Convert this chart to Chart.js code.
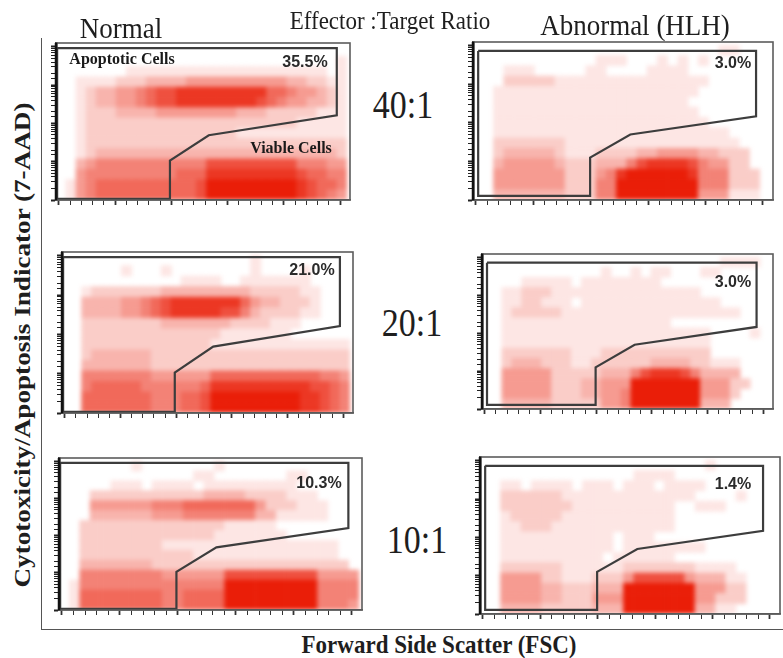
<!DOCTYPE html>
<html>
<head>
<meta charset="utf-8">
<script src="https://cdn.jsdelivr.net/npm/chart.js@4.4.0/dist/chart.umd.min.js"></script>
<style>
  body { margin: 0; background: #fff; width: 783px; height: 658px; position: relative; overflow: hidden; font-family: "Liberation Serif", "DejaVu Serif", serif; }
  canvas { position: absolute; }
  canvas.dots { filter: blur(2px); clip-path: inset(1px 1px 7px 7px); }
  .t { position: absolute; white-space: nowrap; color: #1e1e1e; line-height: 1; }
  .pct { font-family: "Liberation Sans", Arial, sans-serif; font-weight: bold; font-size: 16px; color: #2a2a2a; }
  .gl { font-weight: bold; font-size: 16px; color: #1a1a1a; }
  #frame { position: absolute; left: 41px; top: 38px; width: 742px; height: 591px; border-left: 1.5px solid #555; border-bottom: 1.5px solid #555; }
</style>
</head>
<body>
<div id="frame"></div>
<div id="labels"></div>
<script>
// FSC channel (linear) and 7-AAD (log) ranges of each dot plot
const FSC_MIN = -10, FSC_MAX = 1035;
const AAD_MIN = 1, AAD_MAX = 12589;
const COLS = 29, ROWS = 15;

const fscTicks = [0, 40, 80, 120, 160, 200, 240, 280, 320, 360, 400, 440, 480, 520, 560, 600, 640, 680, 720, 760, 800, 840, 880, 920, 960, 1000];

const ratios = ['40:1', '20:1', '10:1'];
const normalPct = ['35.5%', '21.0%', '10.3%'];
const hlhPct = ['3.0%', '3.0%', '1.4%'];

// gate polygons [FSC, 7-AAD]
const normalGate = [[-6, 9300], [988, 9300], [988, 163], [533, 49], [395, 10.7], [395, 1.07], [-6, 1.07], [-6, 9300]];
const hlhGate = [[8, 7400], [976, 7400], [976, 148], [538, 50], [398, 12.6], [398, 1.28], [8, 1.28], [8, 7400]];

// dot density, 0 = empty .. 9 = solid; top row first, 29 bins across FSC
const normal40 = [
  '0000000000 0000000000 000000000',
  '0000000000 0000000000 000000001',
  '0000000 1111111111 1111111111 01',
  '00 1111 222 3333 4444444444 3322 1 1',
  '00 1233 445 6778 8888888866 544 32 1',
  '00 1233 445 6778 8888888765 443 32 1',
  '00 1222 333 3444 4444433322 222 11 1',
  '00 1222 222 2222 2222222222 211 11 1',
  '00 1222 222 2222 2222211111 111 11 1',
  '00 1222 222 2222 2222222222 222 22 2',
  '00 123333333 3333 333333333 333 32',
  '00 345555555 5555 777777777 555 44',
  '00 455555555 5666 888888888 766 55',
  '01 456666666 6667 999999999 876 65',
  '01 456666666 6667 999999999 876 54'
];
const hlh40 = [
  '0000000000 0000000000 0000 11 000',
  '000000000000 111 000 1 0 1 0 1 000000',
  '000 111 00000 11 0000 1111 00000000',
  '000 22222 1 111 11111 11 1111 000000',
  '00 1111111111 1111111111 0000000',
  '00 1111111111 111111111 00000000',
  '00 1111111111 1111111111 0000000',
  '00 1111111111 1111111111 1 000000',
  '00 1111111111 1111111111 111 0000',
  '00 2222222 111111 11111111111 000',
  '00 2333332 11122 22 33444433 222 00',
  '00 3444443 222 333 5788887 544 22 00',
  '00 4444444 222 45 89999998 555 222 0',
  '00 4444444 222 55 99999999 555 222 0',
  '00 3333333 222 55 99999999 444 111 0'
];
const normal20 = [
  '0000000000 000000000 1 000000000',
  '000000 1 000 1 00000000 1 0000 1 0000',
  '000000000000 1111 00 1111111 0000',
  '00 122222 223333 33333 222221 1 000',
  '00 333 344 567 8888888 6 433 222 1000',
  '00 333 344 567 8888877 5 322 221 1000',
  '00 22222222 3333333 222211 100000',
  '00 22222222 222222 1111111 000000',
  '00 22222222 22222 1111111111 1111',
  '00 2333333 22222 2222222222 22222',
  '00 3333333 2222 2222222222 222222',
  '00 5555555 44 4 444 66666666666 554',
  '00 5666665 55 5 556 8888888888 7 765',
  '00 6666666 55 5 667 9999999998 8 765',
  '00 6666666 55 5 667 9999999998 8 765'
];
const hlh20 = [
  '0000000000 0000000000 0000 1111 0',
  '000000000000 1 00 1 0 11 000 11 00000',
  '0000 11111 0 11111111 00000000000',
  '00 1122211 1111111111 111 0000000',
  '00 1122111 0 1111111111 1111 00000',
  '00 1222221 1111111111 1111111 000',
  '00 1111111 1111111111 0000000000',
  '00 1111111 1111111111 1111 0000 1 0',
  '00 1111111 1111111111 1111 000000',
  '00 2222222 111 22222222222 000',
  '00 23332 2211 2222 22333322 111 000',
  '00 44444 222 22 333 5788875 3333 000',
  '00 44444 222 33 444 9999999 4442 200',
  '00 44444 222 33 445 9999999 4442 000',
  '00 33333 222 22 445 9999999 3330 000'
];
const normal10 = [
  '0000000 1 0000000 1 0000000000000',
  '0000000000000 11 0000000 11 00000',
  '00000 111 0 1111 0 111111111 000000',
  '000 222222 2222 233332 222 111 0000',
  '000 444 444 555 6666666 4 222 111 000',
  '000 333 333 444 5555555 3 311 111 000',
  '00 22222222 222222 11111 00000000',
  '00 22222222 22222 1111111 0000000',
  '00 22222222 1111 1111111111111 00',
  '00 2222222 2222 11111111111111 00',
  '00 3333333 222 2222 222222222222 0',
  '00 55555555 44 4444 777777777 4444',
  '01 55555555 55 5555 999999999 5555',
  '01 66666666 55 6666 999999999 5555',
  '01 66666666 55 6666 999999999 5554'
];
const hlh10 = [
  '0000000000 0000000000 00 1 000000',
  '000000000000000 1111 0000000000',
  '00 11 0 1111 0 111 0 111 0 1111 0000000',
  '00 222222 1111111111111 0000 1 000',
  '00 2222222 1111111111 00 111 00000',
  '00 1222221 1111111111 0000000000',
  '00 1122211 1111111111 0000000000',
  '00 1111111 1111 0 111 000000000000',
  '00 1111111 1111 0 11111111 0000000',
  '00 1111111 111 0 111111 0000000000',
  '00 222222 111 111 2222222 1111 0000',
  '00 4444 22 111 222 4 77777 4 333 11 000',
  '00 4444 33 222 333 9999999 444 22 000',
  '00 4444 33 222 444 9999999 44 222 000',
  '00 3333 22 222 333 9999999 33 11 0000'
];

// where each plot sits on the page: [left, top, right, bottom] of the plot box
const panels = [
  { grid: normal40, gate: normalGate, box: [56, 43, 350, 200] },
  { grid: hlh40, gate: hlhGate, box: [473, 42, 773, 200] },
  { grid: normal20, gate: normalGate, box: [62, 252, 353, 413] },
  { grid: hlh20, gate: hlhGate, box: [482, 254, 773, 409] },
  { grid: normal10, gate: normalGate, box: [59, 458, 362, 610] },
  { grid: hlh10, gate: hlhGate, box: [480, 457, 780, 614] }
];

function cellsFrom(rows) {
  const out = [];
  const lmin = Math.log10(AAD_MIN), lmax = Math.log10(AAD_MAX);
  rows.forEach((row, r) => {
    const cells = row.replace(/\s/g, '');
    if (cells.length !== COLS) console.warn('row', r, 'has', cells.length);
    for (let c = 0; c < cells.length; c++) {
      const v = +cells[c];
      if (!v) continue;
      const x = FSC_MIN + (c + 0.5) * (FSC_MAX - FSC_MIN) / COLS;
      const ly = lmin + (ROWS - r - 0.5) * (lmax - lmin) / ROWS;
      out.push({ x: x, y: Math.pow(10, ly), v: v });
    }
  });
  return out;
}

function shade(v) {
  const t = v / 9;
  const r = Math.round(255 + t * (234 - 255));
  const g = Math.round(255 + t * (30 - 255));
  const b = Math.round(255 + t * (8 - 255));
  return 'rgb(' + r + ',' + g + ',' + b + ')';
}

function cellRadius(ctx) {
  const a = ctx.chart.chartArea;
  if (!a) return 4;
  const side = Math.max((a.right - a.left) / COLS, (a.bottom - a.top) / ROWS) + 0.6;
  return side / (2 * Math.SQRT1_2);
}

const isDecade = v => Math.abs(Math.log10(v) - Math.round(Math.log10(v))) < 1e-9;

const boxFrame = {
  id: 'boxFrame',
  afterDatasetsDraw(chart) {
    const { ctx, chartArea: a } = chart;
    ctx.save();
    ctx.strokeStyle = '#5c5c5c';
    ctx.lineWidth = 1.6;
    ctx.strokeRect(a.left, a.top, a.right - a.left, a.bottom - a.top);
    ctx.strokeStyle = '#111';
    ctx.lineWidth = 2.5;
    ctx.beginPath();
    ctx.moveTo(a.left, a.top);
    ctx.lineTo(a.left, a.bottom);
    ctx.stroke();
    ctx.restore();
  }
};

// same scale set-up for the dot layer and the axis/gate layer so both line up
function scalesFor(visible) {
  const hide = 'rgba(0,0,0,0)';
  return {
    x: {
      type: 'linear',
      min: FSC_MIN,
      max: FSC_MAX,
      afterBuildTicks: s => { s.ticks = fscTicks.map(v => ({ value: v })); },
      afterFit: s => { s.height = 7; },
      ticks: { display: false },
      grid: {
        drawOnChartArea: false,
        tickLength: 5,
        tickColor: visible ? '#333' : hide,
        tickWidth: c => (c.tick && c.tick.value % 200 === 0 ? 1.8 : 1)
      },
      border: { color: visible ? '#555' : hide, width: 1.5 }
    },
    y: {
      type: 'logarithmic',
      min: AAD_MIN,
      max: AAD_MAX,
      afterBuildTicks: s => { s.ticks = s.ticks.filter(tk => tk.value <= 10000); },
      afterFit: s => { s.width = 7; },
      ticks: { display: false },
      grid: {
        drawOnChartArea: false,
        tickLength: 5,
        tickColor: visible ? '#222' : hide,
        tickWidth: c => (c.tick && isDecade(c.tick.value) ? 2 : 1)
      },
      border: { color: visible ? '#111' : hide, width: 2.5 }
    }
  };
}

function baseOptions(visible) {
  return {
    responsive: false,
    animation: false,
    events: [],
    layout: { padding: { top: 1, right: 1, left: 0, bottom: 0 } },
    plugins: { legend: { display: false }, tooltip: { enabled: false } },
    scales: scalesFor(visible)
  };
}

function makeCanvas(box, cls) {
  const [l, t, r, b] = box;
  const cv = document.createElement('canvas');
  const w = r - l + 8, h = b - t + 8;
  cv.width = w; cv.height = h;
  cv.className = cls;
  cv.style.left = (l - 7) + 'px';
  cv.style.top = (t - 1) + 'px';
  cv.style.width = w + 'px';
  cv.style.height = h + 'px';
  document.body.appendChild(cv);
  return cv;
}

panels.forEach(p => {
  // dot cloud layer (softened)
  new Chart(makeCanvas(p.box, 'dots'), {
    type: 'scatter',
    data: {
      datasets: [{
        label: 'cells',
        data: cellsFrom(p.grid),
        pointStyle: 'rect',
        pointRadius: cellRadius,
        pointHoverRadius: cellRadius,
        backgroundColor: c => (c.raw ? shade(c.raw.v) : '#fff'),
        borderWidth: 0
      }]
    },
    options: baseOptions(false)
  });

  // gate, axes and box layer
  new Chart(makeCanvas(p.box, 'axes'), {
    type: 'scatter',
    data: {
      datasets: [{
        label: 'gate',
        data: p.gate.map(([x, y]) => ({ x: x, y: y })),
        showLine: true,
        borderColor: '#3d3d3d',
        borderWidth: 2.2,
        pointRadius: 0,
        fill: false
      }]
    },
    options: baseOptions(true),
    plugins: [boxFrame]
  });
});

// text
const labels = document.getElementById('labels');
function addText(txt, x, y, cls, style, transform) {
  const d = document.createElement('div');
  d.className = 't ' + (cls || '');
  d.textContent = txt;
  d.style.left = x + 'px';
  d.style.top = y + 'px';
  if (style) Object.assign(d.style, style);
  d.style.transform = 'translate(-50%,-50%)' + (transform || '');
  d.style.zIndex = 5;
  labels.appendChild(d);
}

addText('Normal', 121, 29, '', { fontSize: '27px' }, ' scaleY(1.1)');
addText('Effector :Target Ratio', 390, 21, '', { fontSize: '23px' }, ' scaleY(1.05)');
addText('Abnormal (HLH)', 635, 26, '', { fontSize: '27px' }, ' scaleY(1.1)');

const ratioPos = [[403, 105], [412, 323], [417, 540]];
ratios.forEach((s, i) => addText(s, ratioPos[i][0], ratioPos[i][1], '', { fontSize: '34px' }, ' scaleY(1.15)'));

const normalPctPos = [[305, 62], [312, 270], [319, 483]];
const hlhPctPos = [[733, 63], [733, 282], [733, 484]];
normalPct.forEach((s, i) => addText(s, normalPctPos[i][0], normalPctPos[i][1], 'pct'));
hlhPct.forEach((s, i) => addText(s, hlhPctPos[i][0], hlhPctPos[i][1], 'pct'));

addText('Apoptotic Cells', 122, 59, 'gl');
addText('Viable Cells', 291, 148, 'gl');

addText('Cytotoxicity/Apoptosis Indicator (7-AAD)', 22, 345, '', { fontSize: '23px', fontWeight: 'bold' }, ' rotate(-90deg) scaleX(1.18)');
addText('Forward Side Scatter (FSC)', 439, 645, '', { fontSize: '23px', fontWeight: 'bold' }, ' scaleY(1.12)');
</script>
</body>
</html>
